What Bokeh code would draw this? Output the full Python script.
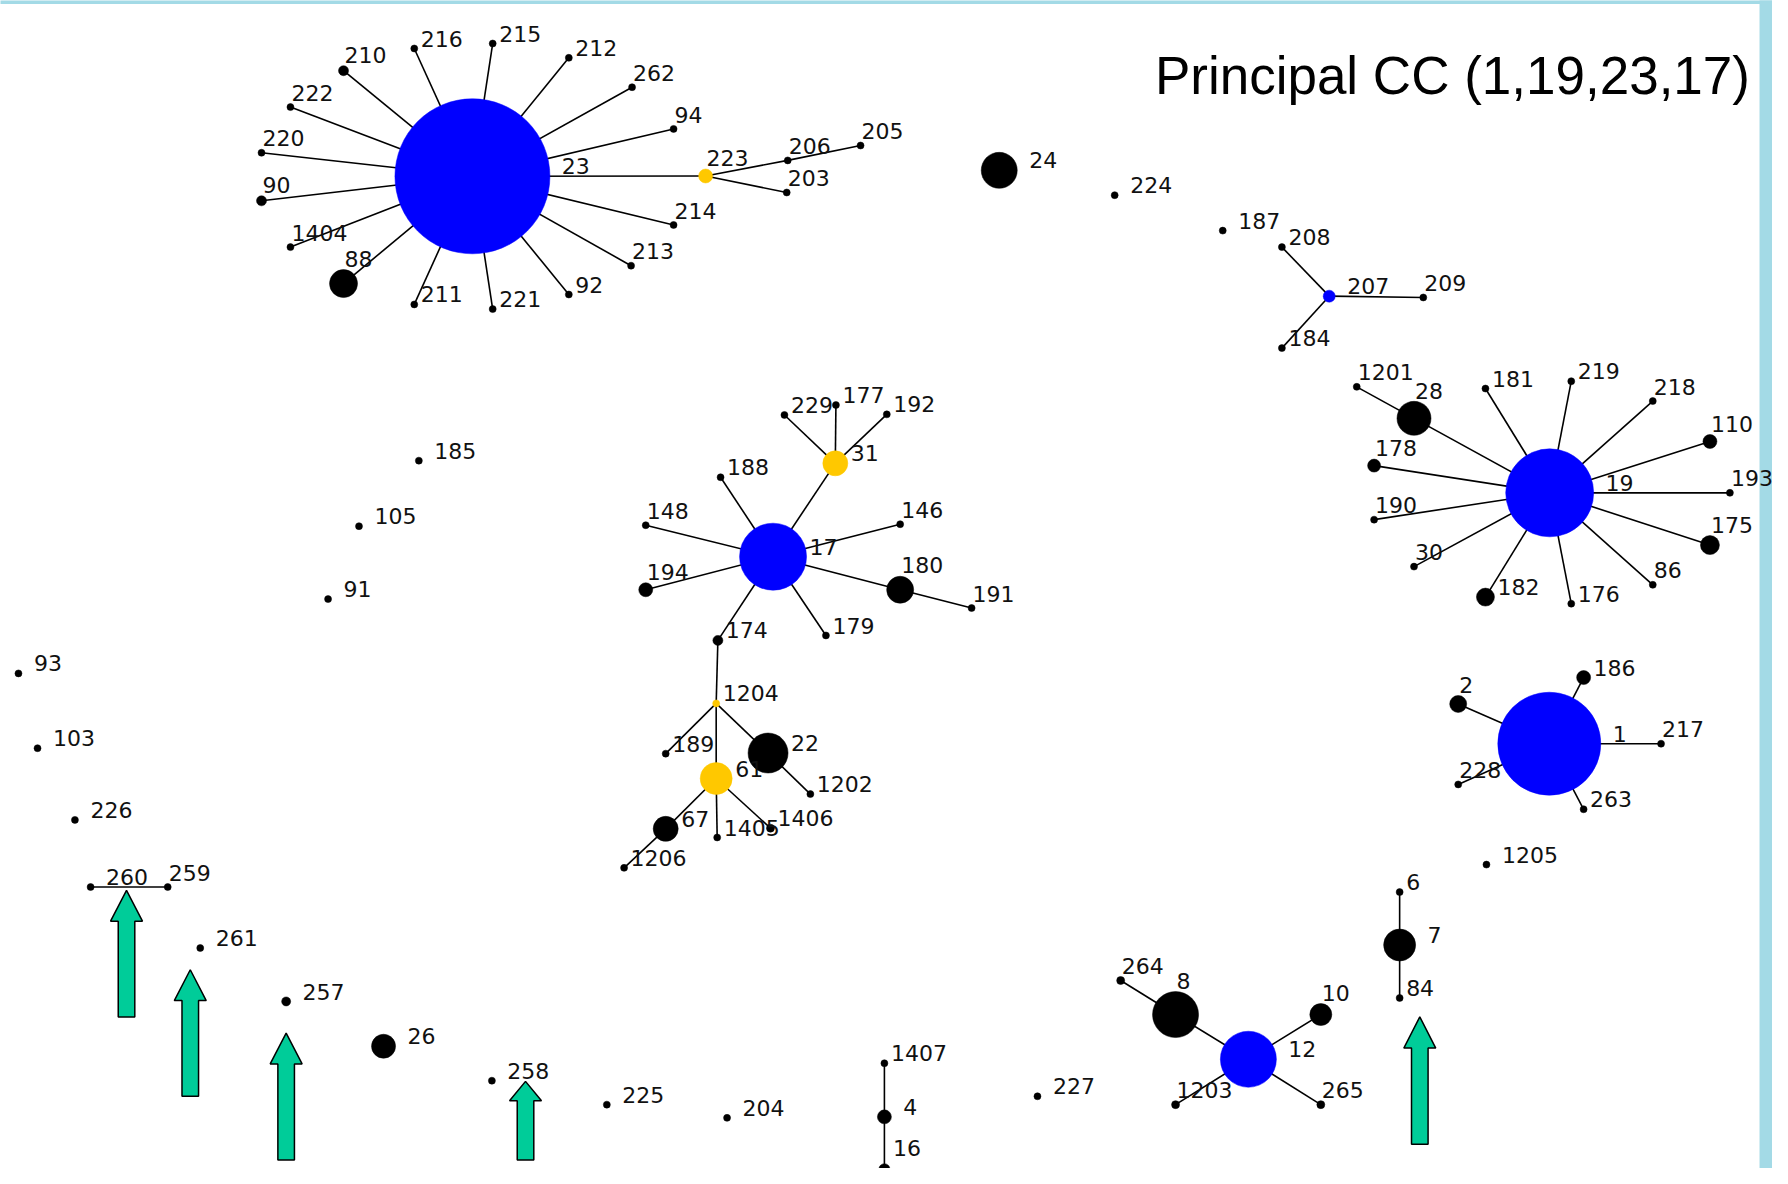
from bokeh.plotting import figure
from bokeh.models import Range1d, ColumnDataSource
from bokeh.core.properties import value
from bokeh.embed import file_html
from bokeh.resources import INLINE

# ---------------- data ----------------
node_id = ["23", "210", "216", "215", "212", "262", "94", "223", "206", "205", "203", "214", "213", "92", "221", "211", "88", "1404", "90", "220", "222",
           "24", "224", "187", "208", "207", "209", "184",
           "19", "1201", "28", "181", "219", "218", "110", "193", "175", "86", "176", "182", "30", "190", "178",
           "1", "2", "186", "217", "228", "263", "1205",
           "17", "31", "229", "177", "192", "188", "148", "146", "194", "180", "191", "179", "174", "1204", "189", "22", "1202", "61", "67", "1405", "1406", "1206",
           "185", "105", "91", "93", "103", "226", "260", "259", "261", "257", "26", "258", "225", "204",
           "1407", "4", "16", "227", "264", "8", "12", "10", "1203", "265", "6", "7", "84"]
node_x = [473, 343.8, 414.7, 493.3, 569.6, 633, 674.6, 706.7, 789, 862, 788, 674.6, 632, 569.6, 493.3, 414.7, 343.8, 290.6, 261.6, 261.6, 290.6,
          1001, 1116.7, 1225, 1284.3, 1331.7, 1426, 1284.3,
          1552.7, 1359.3, 1416.7, 1488.3, 1574.3, 1656, 1713.3, 1733.3, 1713.3, 1656, 1574.3, 1488.3, 1416.7, 1376.7, 1376.7,
          1552.3, 1461, 1586.7, 1664.3, 1461, 1586.7, 1489.3,
          774.3, 836.7, 785.7, 837.3, 888.3, 721.7, 646.7, 901.7, 646.7, 901.7, 973.3, 827.3, 719, 717.3, 666.7, 769.3, 811.7, 717.3, 666.7, 718.3, 771.7, 625,
          419.3, 359.3, 328.3, 18, 37.1, 74.6, 90.3, 167.6, 200.2, 286.3, 383.9, 492.5, 607.7, 728.2,
          885.9, 885.9, 885.9, 1039.3, 1122.7, 1177.7, 1250.7, 1323.3, 1177.7, 1323.3, 1402.3, 1402.3, 1402.3]
node_y = [177, 70.7, 48.3, 43.3, 57.7, 87.3, 129.3, 176.7, 161, 146, 193.3, 226, 267, 296, 310.7, 306, 285, 248.3, 201.7, 153.3, 107.3,
          171, 196, 231.7, 248.3, 297.7, 299, 350,
          495.7, 389, 420.7, 390.7, 383.3, 403.3, 444, 495.7, 548.3, 588.3, 607.3, 600.7, 570, 522.7, 468.3,
          748.3, 708.3, 681.7, 748.3, 789.3, 814.3, 870,
          560, 466, 417.3, 407.3, 416.7, 480, 528.3, 527.3, 593.3, 593.3, 611.7, 639.3, 644.3, 707.7, 758.3, 757.7, 799, 783.3, 834, 842.7, 833.3, 873.3,
          463.3, 529.3, 602.7, 677.5, 752.8, 825, 892.6, 892.6, 954, 1007.8, 1052.9, 1087.6, 1111.7, 1125,
          1070, 1124, 1176.7, 1103.3, 986.7, 1021, 1066, 1021, 1111.7, 1111.7, 897.7, 951, 1004.3]
# node size (pixels across), proportional to number of isolates
node_d = [155, 10, 7, 7, 7, 7, 7, 14, 7, 7, 7, 7, 7, 7, 7, 7, 28, 7, 10, 7, 7,
          36, 7, 7, 7, 12, 7, 7,
          88, 7, 34, 7, 7, 7, 14, 7, 19, 7, 7, 18, 7, 7, 13,
          103, 17, 14, 7, 7, 7, 7,
          67, 25, 7, 7, 7, 7, 7, 7, 14, 27, 7, 7, 10, 7, 7, 40, 7, 32, 25, 7, 8, 7,
          7, 7, 7, 7, 7, 7, 7, 7, 7, 9, 24, 7, 7, 7,
          7, 14, 11, 7, 8, 46, 56, 22, 8, 8, 7, 32, 7]
# F = founder (blue), S = sub-founder (orange), O = other ST (black)
node_kind = ["F", "O", "O", "O", "O", "O", "O", "S", "O", "O", "O", "O", "O", "O", "O", "O", "O", "O", "O", "O", "O",
             "O", "O", "O", "O", "F", "O", "O",
             "F", "O", "O", "O", "O", "O", "O", "O", "O", "O", "O", "O", "O", "O", "O",
             "F", "O", "O", "O", "O", "O", "O",
             "F", "S", "O", "O", "O", "O", "O", "O", "O", "O", "O", "O", "O", "S", "O", "O", "O", "S", "O", "O", "O", "O",
             "O", "O", "O", "O", "O", "O", "O", "O", "O", "O", "O", "O", "O", "O",
             "O", "O", "O", "O", "O", "O", "F", "O", "O", "O", "O", "O", "O"]
# where each label sits: r = right, a = above, f = right with a gap, u = right, raised
label_side = ["f", "a", "r", "r", "r", "a", "a", "a", "a", "a", "a", "a", "a", "r", "r", "r", "a", "a", "a", "a", "a",
              "f", "f", "f", "r", "f", "a", "r",
              "f", "a", "a", "r", "r", "a", "a", "a", "a", "a", "r", "r", "a", "a", "a",
              "f", "a", "r", "a", "a", "r", "f",
              "r", "r", "r", "r", "r", "r", "a", "a", "a", "a", "a", "r", "r", "r", "r", "r", "r", "r", "r", "r", "r", "r",
              "f", "f", "f", "f", "f", "f", "f", "a", "f", "f", "f", "f", "f", "f",
              "r", "f", "u", "f", "a", "a", "f", "a", "a", "a", "r", "f", "r"]

edges = [("23", t) for t in ["210", "216", "215", "212", "262", "94", "223", "214", "213", "92", "221", "211", "88", "1404", "90", "220", "222"]] + \
        [("223", "206"), ("223", "203"), ("206", "205"),
         ("207", "208"), ("207", "209"), ("207", "184")] + \
        [("19", t) for t in ["28", "181", "219", "218", "110", "193", "175", "86", "176", "182", "30", "190", "178"]] + \
        [("28", "1201")] + \
        [("1", t) for t in ["2", "186", "217", "228", "263"]] + \
        [("17", t) for t in ["31", "188", "148", "146", "194", "180", "179", "174"]] + \
        [("31", "229"), ("31", "177"), ("31", "192"), ("180", "191"), ("174", "1204"),
         ("1204", "189"), ("1204", "22"), ("1204", "61"), ("22", "1202"),
         ("61", "67"), ("61", "1405"), ("61", "1406"), ("67", "1206"),
         ("260", "259"), ("1407", "4"), ("4", "16"),
         ("8", "264"), ("12", "8"), ("12", "10"), ("12", "1203"), ("12", "265"),
         ("7", "6"), ("7", "84")]

# highlighted STs (green arrows): x, tip, tail, head length
arrow_x = [126.3, 190.2, 286.3, 526.2, 1422.5]
arrow_tip = [896, 975.9, 1039.7, 1088.3, 1023.3]
arrow_tail = [1023.4, 1103.2, 1167.4, 1167.4, 1151.7]
arrow_head = [31, 31, 31, 19.5, 31.5]

title = "Principal CC (1,19,23,17)"

# ---------------- drawing ----------------
W, H = 1772, 1168
p = figure(width=W, height=H, x_range=Range1d(0, 1776), y_range=Range1d(1176, 0),
           output_backend="svg", toolbar_location=None, min_border=0)
p.axis.visible = False
p.grid.visible = False
p.outline_line_color = None
p.background_fill_color = "white"
p.border_fill_color = "white"

# decorative frame strips
p.quad(left=[1763], right=[1800], top=[-20], bottom=[1200], fill_color="#a3dae6", line_color=None)
p.quad(left=[-20], right=[1800], top=[-20], bottom=[3.5], fill_color="#a3dae6", line_color=None)

pos = {n: (x, y) for n, x, y in zip(node_id, node_x, node_y)}
p.segment(x0=[pos[a][0] for a, b in edges], y0=[pos[a][1] for a, b in edges],
          x1=[pos[b][0] for a, b in edges], y1=[pos[b][1] for a, b in edges],
          line_color="black", line_width=1.6)

kind_color = {"F": "#0000ff", "S": "#ffc800", "O": "#000000"}
cols = [kind_color[k] for k in node_kind]
src = ColumnDataSource(dict(x=node_x, y=node_y, d=node_d, c=cols))
p.scatter("x", "y", size="d", fill_color="c", line_color="c", line_width=0.5, source=src)

TXT_SHIFT = 9  # the SVG text sits a little low; lift it
lx, ly = [], []
for x, y, d, s in zip(node_x, node_y, node_d, label_side):
    r = d / 2.0
    if s == "r":
        lx.append(x + r + 3); ly.append(y - 1 - TXT_SHIFT)
    elif s == "u":
        lx.append(x + r + 3); ly.append(y - 12 - TXT_SHIFT)
    elif s == "a":
        lx.append(x + 1); ly.append(y - r - 2 - TXT_SHIFT)
    else:
        lx.append(x + r + 12); ly.append(y - 1 - TXT_SHIFT)
p.text(x=lx, y=ly, text=node_id, text_font=value("DejaVu Sans"), text_font_size="22px",
       text_color="#111111", text_baseline="alphabetic", text_align="left")

# arrows
xs, ys = [], []
for x, t, b, h in zip(arrow_x, arrow_tip, arrow_tail, arrow_head):
    hw, sw = 16, 8.3
    xs.append([x, x + hw, x + sw, x + sw, x - sw, x - sw, x - hw])
    ys.append([t, t + h, t + h, b, b, t + h, t + h])
p.patches(xs, ys, fill_color="#00cc99", line_color="black", line_width=1.5)

p.text(x=[1157], y=[76], text=[title], text_font=value("Liberation Sans"), text_font_size="53px",
       text_color="black", text_baseline="alphabetic", text_align="left")

open("out.html", "w").write(file_html(p, INLINE))
